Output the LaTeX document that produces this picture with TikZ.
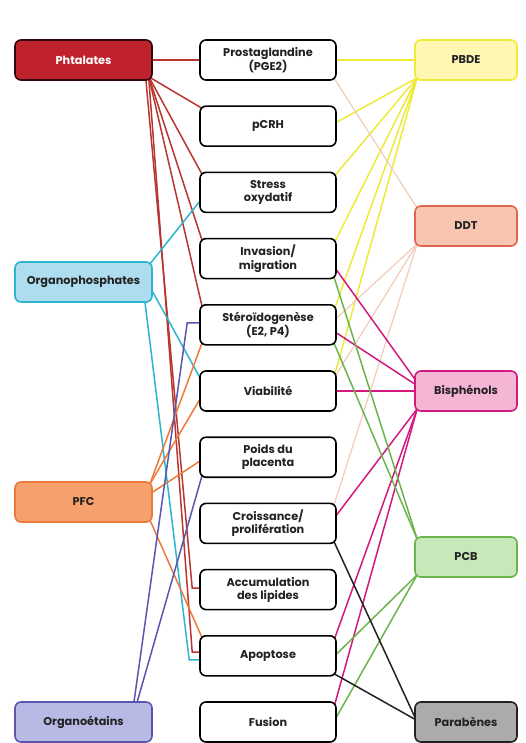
\documentclass[tikz,border=0pt]{standalone}
\usepackage{fontspec}
\setmainfont{Poppins}
\usetikzlibrary{positioning, backgrounds}

\definecolor{rougef}{HTML}{C0222D}
\definecolor{rougel}{HTML}{B8362F}
\definecolor{cyanf}{HTML}{AEDDF0}
\definecolor{cyanl}{HTML}{2BB5CF}
\definecolor{orangef}{HTML}{F6A06C}
\definecolor{orangel}{HTML}{EC7B3B}
\definecolor{violetf}{HTML}{B9B9E6}
\definecolor{violetl}{HTML}{5A55AE}
\definecolor{jaunef}{HTML}{FFF7B2}
\definecolor{jaunel}{HTML}{EEEA38}
\definecolor{peachf}{HTML}{F8C6B0}
\definecolor{peachb}{HTML}{E0654F}
\definecolor{peachl}{HTML}{F2CBBA}
\definecolor{rosef}{HTML}{F5B5D5}
\definecolor{rosel}{HTML}{D3197F}
\definecolor{vertf}{HTML}{C9E8BA}
\definecolor{vertl}{HTML}{6BB34D}
\definecolor{grisf}{HTML}{ABABAB}
\definecolor{noir}{HTML}{222222}

\begin{document}
\begin{tikzpicture}
[x=1pt, y=-1pt, node distance=66.2pt, on grid,
 box/.style={rectangle, rounded corners=6pt, draw, line width=1.6pt,
   minimum height=40pt, align=center, text=noir,
   font=\bfseries\fontsize{11.3}{13.2}\selectfont},
 effet/.style={box, fill=white, draw=black, minimum width=136pt},
 gauche/.style={box, minimum width=137pt},
 droite/.style={box, minimum width=102pt},
 lien/.style={line width=1.5pt}]

\useasboundingbox (0,0) rectangle (525,743);

\node[effet] (prosta) at (268,60) {Prostaglandine\\(PGE2)};
\node[effet, below=of prosta] (pcrh) {pCRH};
\node[effet, below=of pcrh] (stress) {Stress\\oxydatif};
\node[effet, below=of stress] (invas) {Invasion/\\migration};
\node[effet, below=of invas] (stero) {Stéroïdogenèse\\(E2, P4)};
\node[effet, below=of stero] (viab) {Viabilité};
\node[effet, below=of viab] (poids) {Poids du\\placenta};
\node[effet, below=of poids] (crois) {Croissance/\\prolifération};
\node[effet, below=of crois] (accum) {Accumulation\\des lipides};
\node[effet, below=of accum] (apopt) {Apoptose};
\node[effet, below=of apopt] (fusion) {Fusion};

\node[gauche, fill=rougef, draw=black!75!rougef, text=white, left=184.5pt of prosta] (phta) {Phtalates};
\node[gauche, fill=cyanf, draw=cyanl, below=222pt of phta] (orgp) {Organophosphates};
\node[gauche, fill=orangef, draw=orangel, below=220pt of orgp] (pfc) {PFC};
\node[gauche, fill=violetf, draw=violetl, left=184.5pt of fusion] (orge) {Organoétains};

\node[droite, fill=jaunef, draw=jaunel, right=198pt of prosta] (pbde) {PBDE};
\node[droite, fill=peachf, draw=peachb, below=166pt of pbde] (ddt) {DDT};
\node[droite, fill=rosef, draw=rosel, right=198pt of viab] (bisph) {Bisphénols};
\node[droite, fill=vertf, draw=vertl, below=166pt of bisph] (pcb) {PCB};
\node[droite, fill=grisf, draw=noir, right=198pt of fusion] (parab) {Parabènes};

\begin{pgfonlayer}{background}
\path[lien, draw=rougel]
	(phta.east) edge (prosta.west)
	([xshift=-4pt,yshift=4pt]phta.south east) edge ([xshift=3pt,yshift=-3pt]pcrh.north west)
		edge ([xshift=3pt,yshift=-3pt]stress.north west)
		edge ([xshift=3pt,yshift=-3pt]invas.north west)
		edge ([xshift=3pt,yshift=-3pt]stero.north west);
\draw[lien, rougel] ([xshift=-7pt,yshift=2pt]phta.south east) -- ([xshift=-7pt,yshift=1.6pt]accum.west) -- ([xshift=3pt,yshift=1.6pt]accum.west);
\draw[lien, rougel] ([xshift=-4pt,yshift=2pt]phta.south east) -- ([xshift=-7pt,yshift=3.8pt]apopt.west) -- ([xshift=3pt,yshift=3.8pt]apopt.west);

\path[lien, draw=cyanl]
	([xshift=-3pt,yshift=-3pt]orgp.north east) edge ([xshift=2pt,yshift=-7pt]stress.west)
	([yshift=-10pt]orgp.east) edge ([xshift=2pt,yshift=11pt]viab.west);
\draw[lien, cyanl] ([xshift=-8pt,yshift=2pt]orgp.south east) -- ([xshift=-10pt,yshift=-4pt]apopt.west) -- ([xshift=3pt,yshift=-4pt]apopt.west);

\path[lien, draw=orangel]
	([xshift=-3pt,yshift=-3pt]pfc.north east) edge ([xshift=3pt,yshift=3pt]stero.south west)
		edge ([xshift=2pt,yshift=-6pt]viab.west)
	([yshift=10pt]pfc.east) edge ([xshift=2pt,yshift=-3pt]poids.west)
	([xshift=-3pt,yshift=3pt]pfc.south east) edge ([xshift=3pt,yshift=-3pt]apopt.north west);

\draw[lien, violetl] ([xshift=-19pt,yshift=-2pt]orge.north east) -- ([xshift=-12pt,yshift=2pt]stero.west) -- ([xshift=3pt,yshift=2pt]stero.west);
\path[lien, draw=violetl]
	([xshift=-16pt,yshift=-2pt]orge.north east) edge ([xshift=3pt,yshift=3pt]poids.south west);

\path[lien, draw=jaunel]
	(prosta.east) edge (pbde.west)
	([xshift=3pt,yshift=3pt]pbde.south west) edge ([xshift=-2pt,yshift=3pt]pcrh.east)
		edge ([xshift=-2pt,yshift=-4pt]stress.north east)
		edge ([xshift=-2pt,yshift=-4pt]invas.north east)
		edge ([xshift=-2pt,yshift=-4pt]stero.north east)
		edge ([xshift=-2pt,yshift=-4pt]viab.north east);

\path[line width=1.2pt, draw=peachl]
	([xshift=-3pt,yshift=3pt]prosta.south east) edge ([xshift=3pt,yshift=-3pt]ddt.north west)
	([xshift=3pt,yshift=3pt]ddt.south west) edge ([xshift=-2pt,yshift=5pt]stero.east)
		edge ([xshift=-2pt,yshift=14pt]viab.east)
		edge ([xshift=-3pt,yshift=-3pt]crois.north east);

\path[lien, draw=rosel]
	(viab.east) edge (bisph.west)
	([xshift=2pt,yshift=10pt]bisph.west) edge ([xshift=-2pt,yshift=-9pt]invas.east)
	([xshift=2pt,yshift=6pt]bisph.west) edge ([xshift=-2pt,yshift=-7pt]stero.east)
	([xshift=3pt,yshift=3pt]bisph.south west) edge ([xshift=-2pt,yshift=6pt]crois.east)
		edge ([xshift=-2pt,yshift=-3pt]apopt.north east)
		edge ([xshift=-2pt,yshift=-3pt]fusion.north east);

\path[lien, draw=vertl]
	([xshift=3pt,yshift=-3pt]pcb.north west) edge ([xshift=-3pt,yshift=3pt]invas.south east)
		edge ([xshift=-3pt,yshift=3pt]stero.south east)
	([xshift=3pt,yshift=3pt]pcb.south west) edge ([xshift=-2pt]apopt.east)
		edge ([xshift=-2pt,yshift=2pt]fusion.east);

\path[lien, draw=noir]
	([xshift=2pt,yshift=2pt]parab.west) edge ([xshift=-3pt,yshift=3pt]crois.south east)
		edge ([xshift=-3pt,yshift=3pt]apopt.south east);
\end{pgfonlayer}

\end{tikzpicture}
\end{document}
